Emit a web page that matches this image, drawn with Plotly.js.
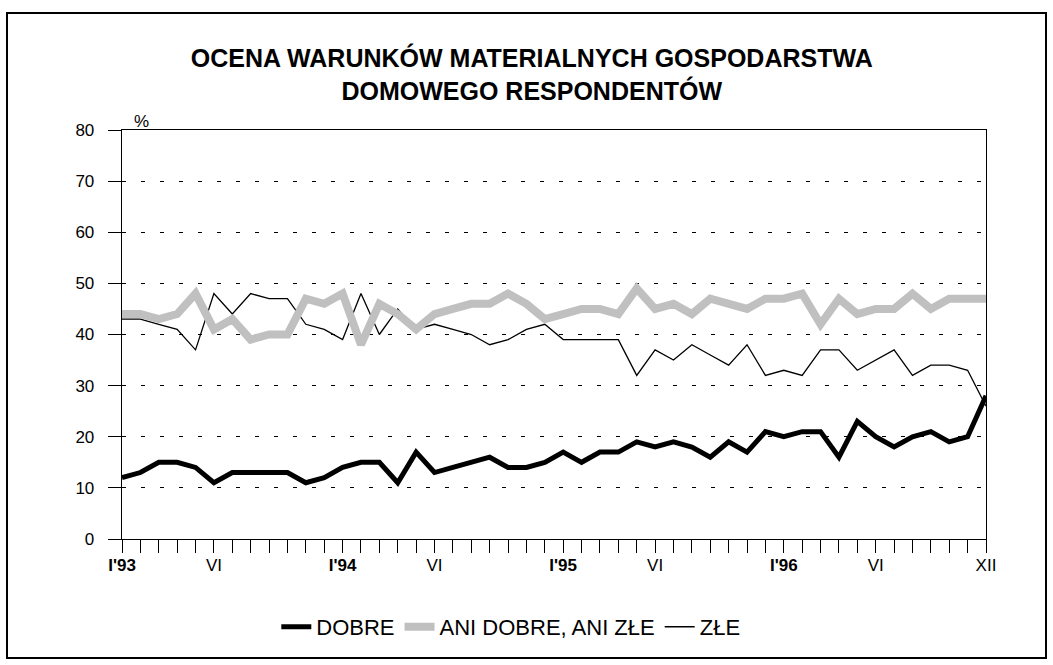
<!DOCTYPE html>
<html>
<head>
<meta charset="utf-8">
<script src="https://cdn.plot.ly/plotly-3.0.1.min.js"></script>
<style>
  html, body { margin: 0; padding: 0; background: #fff; }
  #wrap { position: relative; width: 1053px; height: 665px; }
  #chart { width: 1053px; height: 665px; }
  #frame { position: absolute; left: 6px; top: 12px; width: 1037px; height: 643px;
           border: 2px solid #000; pointer-events: none; }
</style>
</head>
<body>
<div id="wrap">
  <div id="chart"></div>
  <div id="frame"></div>
</div>
<script>
// Months I'93 .. XII'96
const months = [
  "I'93","II'93","III'93","IV'93","V'93","VI'93","VII'93","VIII'93","IX'93","X'93","XI'93","XII'93",
  "I'94","II'94","III'94","IV'94","V'94","VI'94","VII'94","VIII'94","IX'94","X'94","XI'94","XII'94",
  "I'95","II'95","III'95","IV'95","V'95","VI'95","VII'95","VIII'95","IX'95","X'95","XI'95","XII'95",
  "I'96","II'96","III'96","IV'96","V'96","VI'96","VII'96","VIII'96","IX'96","X'96","XI'96","XII'96"
];

// Labelled ticks and their display text
const labelledMonths = ["I'93","VI'93","I'94","VI'94","I'95","VI'95","I'96","VI'96","XII'96"];
const labelledText   = ["<b>I'93</b>","VI","<b>I'94</b>","VI","<b>I'95</b>","VI","<b>I'96</b>","VI","XII"];

// Series values (%)
const dobre = [12,13,15,15,14,11,13,13,13,13,11,12,
               14,15,15,11,17,13,14,15,16,14,14,15,
               17,15,17,17,19,18,19,18,16,19,17,21,
               20,21,21,16,23,20,18,20,21,19,20,28];
const aniDobreAniZle = [44,44,43,44,48,41,43,39,40,40,47,46,
                        48,38,46,44,41,44,45,46,46,48,46,43,
                        44,45,45,44,49,45,46,44,47,46,45,47,
                        47,48,42,47,44,45,45,48,45,47,47,47];
const zle = [43,43,42,41,37,48,44,48,47,47,42,41,
             39,48,40,45,41,42,41,40,38,39,41,42,
             39,39,39,39,32,37,35,38,36,34,38,32,
             33,32,37,37,33,35,37,32,34,34,33,26];

const seriesNames = ["DOBRE", "ANI DOBRE, ANI ZŁE", "ZŁE"];

const tickText = months.map(m => {
  const i = labelledMonths.indexOf(m);
  return i >= 0 ? labelledText[i] : "";
});

const FONT = "Arial, 'Liberation Sans', sans-serif";

const traces = [
  { x: months, y: zle, name: seriesNames[2], type: "scatter", mode: "lines",
    line: { color: "#000000", width: 1.3 }, cliponaxis: false, legendrank: 3 },
  { x: months, y: aniDobreAniZle, name: seriesNames[1], type: "scatter", mode: "lines",
    line: { color: "#c0c0c0", width: 8 }, cliponaxis: false, legendrank: 2 },
  { x: months, y: dobre, name: seriesNames[0], type: "scatter", mode: "lines",
    line: { color: "#000000", width: 5 }, cliponaxis: false, legendrank: 1 }
];

const layout = {
  width: 1053, height: 665,
  margin: { l: 122, r: 67, t: 130, b: 126 },
  paper_bgcolor: "#ffffff", plot_bgcolor: "#ffffff",
  font: { family: FONT, color: "#000000", size: 16 },
  title: {
    text: "<b>OCENA WARUNKÓW MATERIALNYCH GOSPODARSTWA<br>DOMOWEGO RESPONDENTÓW</b>",
    font: { family: FONT, size: 25, color: "#000000" },
    x: 0.505, xref: "container", xanchor: "center",
    y: 0.899, yref: "container", yanchor: "top"
  },
  xaxis: {
    type: "category",
    range: [0, 47],
    tickmode: "array", tickvals: months, ticktext: tickText,
    ticks: "outside", ticklen: 13, tickwidth: 1, tickcolor: "#000000",
    showline: true, linecolor: "#000000", linewidth: 1.3, mirror: true,
    showgrid: false, zeroline: false,
    tickangle: 0,
    ticklabelstandoff: -3,
    tickfont: { family: FONT, size: 17, color: "#000000" },
    fixedrange: true
  },
  yaxis: {
    range: [0, 80], dtick: 10, tick0: 0,
    ticks: "outside", ticklen: 13, tickwidth: 1, tickcolor: "#000000",
    showline: true, linecolor: "#000000", linewidth: 1.3, mirror: true,
    showgrid: true, gridcolor: "#000000", gridwidth: 1, griddash: "4px,15px",
    zeroline: false,
    ticklabelstandoff: 10,
    tickfont: { family: FONT, size: 17, color: "#000000" },
    fixedrange: true
  },
  showlegend: true,
  legend: {
    orientation: "h", x: 0.45, xanchor: "center", y: -0.215, yanchor: "middle",
    font: { family: FONT, size: 22, color: "#000000" },
    itemwidth: 30, tracegroupgap: 0,
    bgcolor: "rgba(0,0,0,0)"
  },
  annotations: [
    { text: "%", xref: "paper", yref: "paper", x: 0.012, y: 1.0, xanchor: "left", yanchor: "bottom",
      showarrow: false, font: { family: FONT, size: 17, color: "#000000" }, yshift: -3 }
  ]
};

Plotly.newPlot("chart", traces, layout, { displayModeBar: false, staticPlot: true });
</script>
</body>
</html>
